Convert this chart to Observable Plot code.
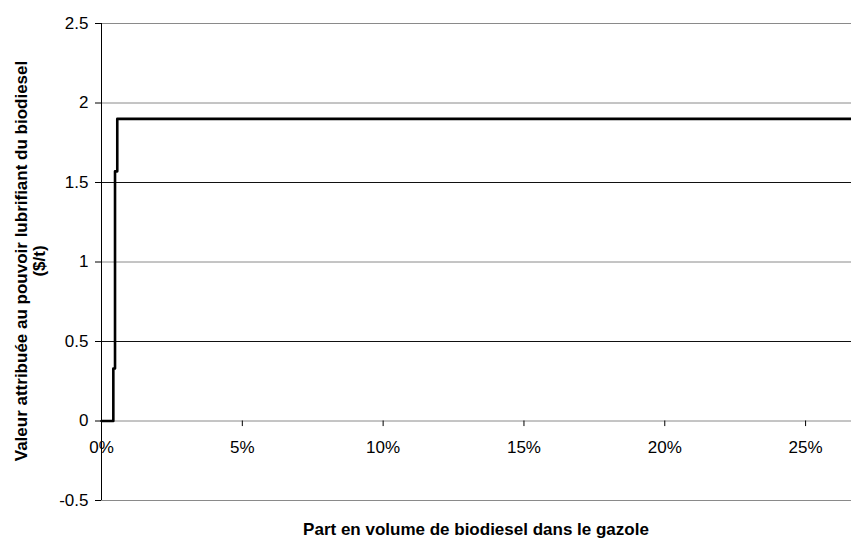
<!DOCTYPE html>
<html><head><meta charset="utf-8">
<script src="https://cdn.jsdelivr.net/npm/d3@7"></script>
<script src="https://cdn.jsdelivr.net/npm/@observablehq/plot@0.6"></script>
<style>body{margin:0;background:#fff;font-family:"Liberation Sans",Arial,sans-serif}</style>
</head><body><div id="chart"></div>
<script>
// step curve: share of biodiesel (fraction) -> value ($/t)
const share = [0, 0.0042, 0.0048, 0.0056, 0.27];
const value = [0, 0.33, 1.57, 1.9, 1.9];
const yTicks = [-0.5, 0, 0.5, 1, 1.5, 2, 2.5];
const xTicks = [0, 0.05, 0.10, 0.15, 0.20, 0.25];
const xTickLabels = ["0%", "5%", "10%", "15%", "20%", "25%"];
const yTitle = ["Valeur attribuée au pouvoir lubrifiant du biodiesel", "($/t)"];
const xTitle = "Part en volume de biodiesel dans le gazole";

const data = share.map((s, i) => ({s, v: value[i]}));
const W = 851, H = 538;
const FS = 17;
const plot = Plot.plot({
  width: W, height: H,
  marginLeft: 101, marginRight: 0, marginTop: 23, marginBottom: 38,
  style: {fontFamily: '"Liberation Sans", Arial, sans-serif', fontSize: FS + "px", background: "#fff", color: "#000"},
  x: {domain: [0, 0.2663], axis: null},
  y: {domain: [-0.5, 2.5], axis: null},
  marks: [
    Plot.ruleY(yTicks, {y: d => d, stroke: d => (d === 0.5 || d === 1.5) ? "#111" : "#8a8a8a", strokeWidth: 1, strokeOpacity: 1}),
    Plot.ruleX([0], {x: d => d, stroke: "#000", strokeWidth: 1}),
    Plot.axisY(yTicks, {tickSize: 6, tickPadding: 7, tickFormat: d => String(d), fontSize: FS, stroke: "#000", label: null, color: "#000"}),
    Plot.ruleX(xTicks.slice(1), {x: d => d, y1: 0, y2: -0.035, stroke: "#000"}),
    Plot.text(xTicks, {x: d => d, y: 0, dy: 27, text: (d, i) => xTickLabels[i], fontSize: FS, fill: "#000"}),
    Plot.line(data, {x: "s", y: "v", curve: "step-after", stroke: "#000", strokeWidth: 2.6})
  ]
});
const svg = d3.select(plot);
svg.append("text").attr("transform", "translate(21,261) rotate(-90)").attr("text-anchor", "middle").attr("dy", "0.35em")
  .attr("font-weight", "bold").attr("font-size", FS).attr("fill", "#000").text(yTitle[0]);
svg.append("text").attr("transform", "translate(39,261) rotate(-90)").attr("text-anchor", "middle").attr("dy", "0.35em")
  .attr("font-weight", "bold").attr("font-size", FS).attr("fill", "#000").text(yTitle[1]);
svg.append("text").attr("x", 476).attr("y", 535).attr("text-anchor", "middle")
  .attr("font-weight", "bold").attr("font-size", FS).attr("fill", "#000").text(xTitle);
document.getElementById("chart").appendChild(plot);
</script></body></html>
